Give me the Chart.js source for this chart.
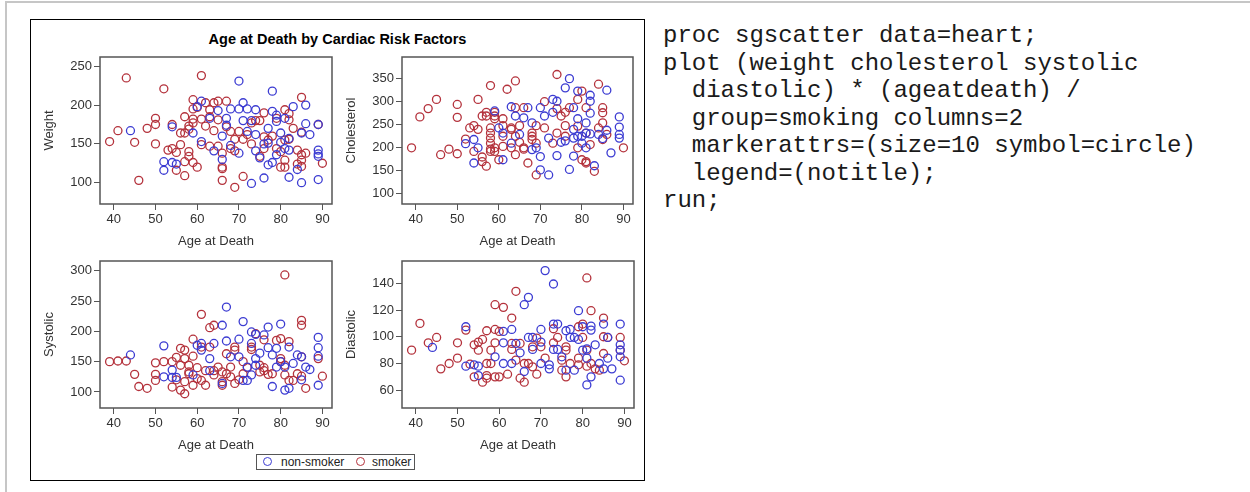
<!DOCTYPE html>
<html>
<head>
<meta charset="utf-8">
<script src="https://cdn.jsdelivr.net/npm/chart.js@4.4.1/dist/chart.umd.min.js"></script>
<style>
    html, body { margin: 0; padding: 0; background: #fff; }
    body { width: 1250px; height: 492px; position: relative; overflow: hidden; font-family: "Liberation Sans", Arial, sans-serif; }
    .edge-top { position: absolute; left: 5px; top: 1px; width: 1245px; height: 2px; background: #c6c6c6; }
    .edge-left { position: absolute; left: 5px; top: 1px; width: 2px; height: 491px; background: #c6c6c6; }
    #frame { position: absolute; left: 30px; top: 19px; width: 613px; height: 460px; border: 1px solid #000; }
    #title { position: absolute; left: 30px; top: 30px; width: 615px; text-align: center; font-weight: bold; font-size: 14.5px; line-height: 18px; color: #000; }
    canvas { position: absolute; }
    #legend { position: absolute; left: 256px; top: 454px; width: 157px; height: 14px; border: 1px solid #555; font-size: 12px; line-height: 14px; color: #222; }
    #legend .sw { position: absolute; top: 2px; width: 7px; height: 7px; border-radius: 50%; border: 1.4px solid; }
    #legend .tx { position: absolute; top: 0; }
    #code { position: absolute; left: 663px; top: 22px; margin: 0; font-family: "Liberation Mono", "Courier New", monospace; font-size: 24px; line-height: 27.5px; color: #1a1a1a; }
</style>
</head>
<body>
<div class="edge-top"></div>
<div class="edge-left"></div>
<div id="frame"></div>
<div id="title">Age at Death by Cardiac Risk Factors</div>
<canvas id="pWeight"></canvas>
<canvas id="pChol"></canvas>
<canvas id="pSys"></canvas>
<canvas id="pDia"></canvas>
<div id="legend">
    <span class="sw" style="left:6px;border-color:#3c3cd2"></span><span class="tx" style="left:24px">non-smoker</span>
    <span class="sw" style="left:99px;border-color:#b4323c"></span><span class="tx" style="left:115px">smoker</span>
</div>
<pre id="code">proc sgscatter data=heart;
plot (weight cholesterol systolic
  diastolic) * (ageatdeath) /
  group=smoking columns=2
  markerattrs=(size=10 symbol=circle)
  legend=(notitle);
run;</pre>

<script>
const weightNon = [[44,167],[52,127],[52,116],[54,172],[54,126],[55,124],[59,164],[60,198],[61,205],[61,153],[63,183],[64,141],[65,193],[66,160],[66,130],[67,183],[67,174],[68,195],[68,148],[70,231],[70,195],[70,138],[71,203],[71,180],[72,195],[72,166],[73,99],[73,180],[74,194],[74,162],[74,141],[75,132],[76,106],[76,150],[77,170],[77,123],[77,151],[78,192],[78,218],[78,126],[79,179],[79,136],[79,187],[80,152],[80,164],[81,183],[81,144],[82,157],[82,107],[82,142],[83,198],[84,117],[85,164],[85,100],[86,200],[86,176],[87,162],[89,142],[89,137],[89,134],[89,104],[89,175]];
const weightSmk = [[39,153],[41,167],[43,235],[45,152],[46,103],[48,170],[50,183],[50,175],[50,150],[52,221],[53,142],[54,144],[54,175],[55,139],[55,116],[56,149],[56,164],[57,185],[57,164],[57,127],[57,109],[58,173],[58,169],[58,140],[58,134],[59,126],[59,207],[59,195],[59,182],[59,177],[60,120],[60,197],[61,238],[61,182],[61,149],[62,173],[62,203],[63,194],[63,185],[63,147],[64,203],[64,167],[65,205],[65,181],[65,147],[66,138],[66,120],[66,118],[66,103],[67,205],[67,172],[68,166],[68,144],[69,156],[69,94],[69,141],[70,166],[71,108],[71,156],[72,162],[73,150],[73,177],[74,180],[75,180],[75,134],[76,159],[76,144],[76,190],[77,155],[78,160],[79,144],[79,183],[80,120],[80,140],[81,194],[82,189],[81,129],[81,120],[81,155],[82,181],[82,156],[83,170],[84,142],[84,124],[85,210],[85,165],[85,136],[85,129],[85,121],[86,138],[89,175],[90,125]];

const cholNon = [[52,209],[54,218],[54,167],[55,200],[59,280],[60,243],[61,232],[61,174],[63,289],[63,210],[64,269],[65,229],[66,265],[67,287],[68,254],[68,196],[69,200],[70,287],[70,181],[70,152],[71,269],[72,221],[72,141],[73,305],[73,277],[74,301],[74,183],[75,212],[76,330],[76,215],[77,350],[77,153],[78,287],[78,182],[78,221],[78,240],[79,323],[79,263],[79,225],[80,210],[80,225],[81,232],[81,200],[81,254],[82,314],[82,301],[82,275],[82,230],[83,161],[84,229],[85,220],[86,325],[86,238],[87,189],[89,267],[89,245],[89,229],[89,221]];
const cholSmk = [[39,200],[41,267],[43,285],[45,305],[46,185],[48,197],[50,294],[50,266],[50,187],[52,219],[53,243],[54,248],[54,192],[55,305],[55,240],[56,269],[56,180],[56,170],[57,277],[57,269],[57,160],[58,335],[58,243],[58,232],[58,221],[58,210],[58,197],[58,192],[59,277],[59,269],[59,263],[59,200],[59,192],[60,174],[62,327],[61,263],[61,248],[61,225],[61,203],[63,243],[63,240],[63,200],[64,345],[64,287],[64,225],[64,185],[65,212],[65,248],[66,287],[66,197],[66,200],[67,167],[68,232],[68,225],[68,218],[69,141],[69,210],[69,248],[71,300],[71,243],[73,210],[74,359],[74,285],[74,232],[75,269],[76,277],[76,248],[76,225],[77,287],[79,305],[80,323],[79,200],[80,174],[81,287],[81,232],[81,170],[81,167],[82,207],[83,149],[84,338],[84,243],[85,287],[85,276],[85,254],[85,218],[86,229],[90,200],[79,247]];

const sysNon = [[44,161],[52,176],[52,125],[54,136],[54,124],[55,124],[59,128],[60,177],[61,180],[61,169],[63,155],[63,135],[64,180],[66,210],[66,114],[67,240],[67,184],[68,158],[70,187],[70,158],[71,216],[71,119],[72,141],[72,119],[73,199],[73,180],[73,128],[74,195],[74,155],[74,144],[75,164],[76,194],[77,207],[77,173],[78,161],[78,109],[79,172],[79,141],[80,212],[80,150],[81,103],[81,141],[82,174],[82,106],[83,147],[84,161],[85,158],[85,120],[86,141],[87,137],[89,190],[89,173],[89,159],[89,111]];
const sysSmk = [[39,150],[41,151],[43,151],[45,129],[46,109],[48,106],[50,148],[50,129],[50,119],[52,150],[54,150],[54,108],[55,157],[55,120],[56,172],[56,144],[56,103],[57,169],[57,97],[57,155],[57,117],[58,144],[58,133],[58,130],[59,187],[59,159],[59,111],[60,122],[60,140],[61,228],[61,174],[61,119],[62,111],[62,135],[63,206],[64,210],[63,174],[64,128],[64,135],[65,141],[66,133],[66,117],[66,111],[67,163],[67,130],[68,141],[68,125],[69,174],[69,169],[69,114],[70,120],[71,150],[71,130],[72,140],[73,174],[73,170],[74,196],[75,144],[75,133],[76,186],[76,140],[76,135],[77,129],[78,130],[79,185],[80,188],[80,155],[80,150],[81,293],[81,144],[81,128],[82,183],[82,119],[83,119],[84,130],[85,218],[85,210],[85,158],[85,126],[86,106],[89,155],[90,126]];

const diaNon = [[44,92],[52,107.5],[52,78],[54,79],[55,78],[55,71],[59,85],[61,104],[61,95.5],[61,80],[63,105.5],[63,80],[64,95],[65,88],[66,124],[66,74],[67,129.5],[67,99.5],[68,99.5],[68,90.5],[70,105.5],[70,96],[70,80],[71,149.5],[72,79],[72,76],[73,139.5],[73,109.5],[73,90.5],[74,109.5],[74,90.5],[75,85],[76,104.5],[76,75],[77,105.5],[77,99.5],[78,99.5],[78,75],[79,119.5],[79,98],[80,107.5],[80,90],[81,64],[81,84],[81,91],[82,108],[82,105],[82,70],[83,94],[84,80],[85,109.5],[85,76],[86,99.5],[86,84],[87,76],[89,109.5],[89,94],[89,90],[89,85],[89,67.5]];
const diaSmk = [[39,90],[41,110],[43,95.5],[45,99.5],[46,76],[48,80],[50,95.5],[50,84],[52,105],[53,79.5],[54,94],[54,70],[55,96],[55,90],[56,98],[56,66],[57,80],[57,71],[57,69],[57,104.5],[58,80],[58,90],[59,124],[59,105.5],[59,95.5],[59,70],[60,104],[60,70],[61,122],[62,72],[63,114],[63,95],[63,90.5],[64,134],[64,82.5],[65,95],[65,69],[66,66],[66,80],[67,80],[68,92.5],[68,77.5],[69,99],[69,72],[70,92.5],[71,84],[73,106],[73,95.5],[74,99.5],[75,82.5],[75,75],[76,92.5],[76,90],[76,70],[77,80],[79,107.5],[79,84],[79,79],[80,109.5],[80,99.5],[81,144],[81,90],[81,78],[82,119.5],[82,80],[83,76],[84,75],[85,114],[85,100],[85,87.5],[86,99.5],[89,99.5],[89,90],[90,82]];

// tick labels
const ageTicks = [40, 50, 60, 70, 80, 90];
const weightTicks = [100, 150, 200, 250];
const cholTicks = [100, 150, 200, 250, 300, 350];
const sysTicks = [100, 150, 200, 250, 300];
const diaTicks = [60, 80, 100, 120, 140];

const BLUE = '#3c3cd2';
const RED = '#b4323c';
const FONT = '"Liberation Sans", Arial, sans-serif';
const Y_AXIS_W = 60, X_AXIS_H = 46, PAD_TOP = 10, PAD_RIGHT = 8;

// draws the panel's outline around the plot area
const panelFrame = {
    id: 'panelFrame',
    afterDraw(chart) {
        const a = chart.chartArea, ctx = chart.ctx;
        ctx.save();
        ctx.strokeStyle = '#555';
        ctx.lineWidth = 1.5;
        ctx.strokeRect(a.left, a.top, a.right - a.left, a.bottom - a.top);
        ctx.restore();
    }
};

function axis(min, max, ticks, title, horizontal) {
    return {
        type: 'linear',
        min: min,
        max: max,
        afterBuildTicks: function(scale) {
            scale.ticks = ticks.map(v => ({ value: v }));
        },
        afterFit: function(scale) {
            if (horizontal) {
                scale.height = X_AXIS_H;
                scale.paddingLeft = 0;
                scale.paddingRight = 0;
            } else {
                scale.width = Y_AXIS_W;
                scale.paddingTop = 0;
                scale.paddingBottom = 0;
            }
        },
        border: { display: false },
        grid: { drawOnChartArea: false, drawTicks: true, tickLength: 6, color: '#555', lineWidth: 1 },
        ticks: { color: '#333', padding: 2, font: { family: FONT, size: 13 } },
        title: {
            display: true,
            text: title,
            color: '#333',
            font: { family: FONT, size: 13 },
            padding: horizontal ? { top: 0, bottom: 1 } : { top: 2, bottom: 0 }
        }
    };
}

function points(list) {
    return list.map(p => ({ x: p[0], y: p[1] }));
}

function makePanel(id, area, yMin, yMax, yTicks, yTitle, nonData, smkData) {
    const canvas = document.getElementById(id);
    const left = area.l - Y_AXIS_W, top = area.t - PAD_TOP;
    canvas.style.left = left + 'px';
    canvas.style.top = top + 'px';
    canvas.width = area.r + PAD_RIGHT - left;
    canvas.height = area.b + X_AXIS_H - top;

    new Chart(canvas, {
        type: 'scatter',
        data: {
            datasets: [
                { label: 'non-smoker', data: points(nonData), borderColor: BLUE },
                { label: 'smoker', data: points(smkData), borderColor: RED }
            ]
        },
        options: {
            responsive: false,
            animation: false,
            layout: { padding: { left: 0, top: PAD_TOP, right: PAD_RIGHT, bottom: 0 } },
            elements: {
                point: { pointStyle: 'circle', radius: 4, borderWidth: 1.3, backgroundColor: 'rgba(0,0,0,0)' }
            },
            scales: {
                x: axis(36.7, 92.3, ageTicks, 'Age at Death', true),
                y: axis(yMin, yMax, yTicks, yTitle, false)
            },
            plugins: { legend: { display: false }, tooltip: { enabled: false } }
        },
        plugins: [panelFrame]
    });
}

makePanel('pWeight', { l: 100, t: 57, r: 332, b: 204 }, 72.5, 262, weightTicks, 'Weight', weightNon, weightSmk);
makePanel('pChol', { l: 402, t: 57, r: 633, b: 204 }, 78, 397, cholTicks, 'Cholesterol', cholNon, cholSmk);
makePanel('pSys', { l: 100, t: 261, r: 332, b: 408 }, 73.5, 316, sysTicks, 'Systolic', sysNon, sysSmk);
makePanel('pDia', { l: 402, t: 261, r: 634, b: 408 }, 46.7, 156.7, diaTicks, 'Diastolic', diaNon, diaSmk);
</script>
</body>
</html>
